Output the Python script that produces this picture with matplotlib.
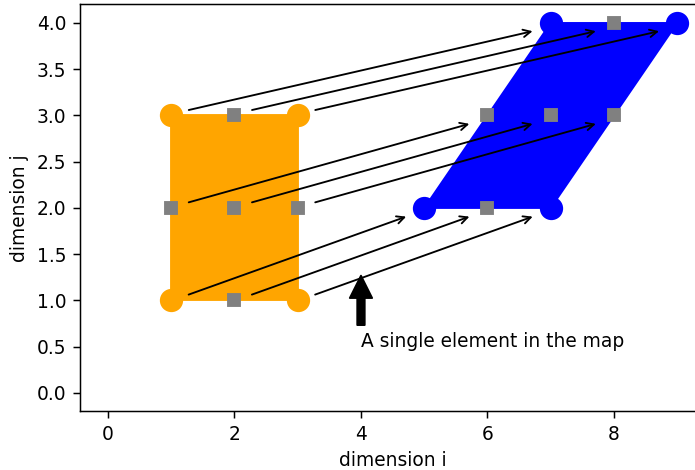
import numpy as np
import matplotlib
matplotlib.use('Agg')
import matplotlib.pyplot as plt

# corner elements of the source block and of its image under the map
src_corner_x = [1, 3, 3, 1]
src_corner_y = [1, 1, 3, 3]
dst_corner_x = [5, 7, 9, 7]
dst_corner_y = [2, 2, 4, 4]

# interior / edge sample elements (gray squares)
src_mid_x = [2, 1, 2, 3, 2]
src_mid_y = [1, 2, 2, 2, 3]
dst_mid_x = [6, 6, 7, 8, 8]
dst_mid_y = [2, 3, 3, 3, 4]

# arrows go from each source element to its image
arrow_src_x = [1, 2, 3, 1, 2, 3, 1, 2, 3]
arrow_src_y = [1, 1, 1, 2, 2, 2, 3, 3, 3]
arrow_dst_x = [5, 6, 7, 6, 7, 8, 7, 8, 9]
arrow_dst_y = [2, 2, 2, 3, 3, 3, 4, 4, 4]

note_text = 'A single element in the map'
note_xy = (4, 1.3)
note_text_xy = (4, 0.5)

dpi = 134
fig = plt.figure(figsize=(695 / dpi, 470 / dpi), dpi=dpi)
ax = fig.add_axes([0.1144, 0.1245, 0.901, 0.866])

ax.fill(src_corner_x, src_corner_y, color='orange', zorder=1)
ax.fill(dst_corner_x, dst_corner_y, color='blue', zorder=1)
ax.plot(src_corner_x, src_corner_y, 'o', color='orange', markersize=11.5, zorder=2)
ax.plot(dst_corner_x, dst_corner_y, 'o', color='blue', markersize=11.5, zorder=2)
ax.plot(src_mid_x, src_mid_y, 's', color='gray', markersize=6, zorder=2)
ax.plot(dst_mid_x, dst_mid_y, 's', color='gray', markersize=6, zorder=2)

for x0, y0, x1, y1 in zip(arrow_src_x, arrow_src_y, arrow_dst_x, arrow_dst_y):
    ax.annotate('', xy=(x1 - 0.23, y1 - 0.08), xytext=(x0 + 0.22, y0 + 0.05),
                arrowprops=dict(arrowstyle='->', color='black'))

ax.annotate(note_text, xy=note_xy, xytext=note_text_xy,
            arrowprops=dict(facecolor='black', shrink=0.05))

ax.set_xlim(-0.45, 9.45)
ax.set_ylim(-0.2, 4.2)
ax.set_xlabel('dimension i')
ax.set_ylabel('dimension j')

plt.savefig('out.png', dpi=dpi)
